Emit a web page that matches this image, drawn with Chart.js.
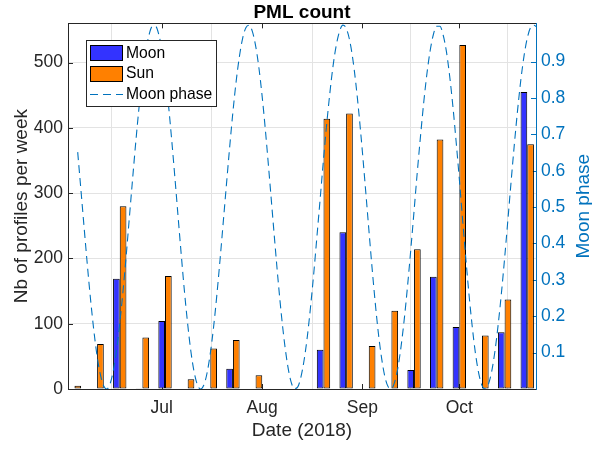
<!DOCTYPE html>
<html><head><meta charset="utf-8">
<script src="https://cdn.jsdelivr.net/npm/chart.js@4.4.1/dist/chart.umd.min.js"></script>
<style>html,body{margin:0;padding:0;background:#fff;}canvas{display:block;}</style>
</head><body>
<canvas id="c" width="592" height="449"></canvas>
<script>
// ---- data ----
const weekDates = ['2018-06-04','2018-06-11','2018-06-18','2018-06-25','2018-07-02','2018-07-09','2018-07-16',
  '2018-07-23','2018-07-30','2018-08-06','2018-08-13','2018-08-20','2018-08-27','2018-09-03','2018-09-10',
  '2018-09-17','2018-09-24','2018-10-01','2018-10-08','2018-10-15','2018-10-22'];
const moonCounts = [0,0,169,1,104,0,0,31,0,0,0,60,240,0,0,29,172,95,0,87,455];
const sunCounts  = [5,69,280,79,173,15,62,75,21,0,0,414,422,66,120,214,382,527,82,137,375];
const phaseStart = '2018-06-05'; // daily values from this date
const moonPhase = [
  0.651,0.547,0.442,0.339,0.244,0.160,0.090,0.040,0.009,
  0.000,0.014,0.050,0.106,0.180,0.268,0.367,0.474,0.580,0.683,0.777,0.858,0.925,0.971,0.996,
  0.998,0.977,0.933,0.868,0.787,0.691,0.587,0.478,0.371,0.269,0.179,0.103,0.047,0.012,0.000,
  0.011,0.044,0.098,0.169,0.256,0.354,0.458,0.563,0.666,0.762,0.846,0.914,0.964,0.993,
  1.000,0.983,0.944,0.885,0.807,0.715,0.612,0.505,0.398,0.295,0.202,0.123,0.061,0.019,0.001,
  0.005,0.032,0.079,0.144,0.226,0.319,0.422,0.526,0.631,0.729,0.816,0.891,0.947,0.984,1.000,
  0.992,0.962,0.911,0.840,0.753,0.655,0.549,0.441,0.335,0.237,0.151,0.083,0.033,0.006,
  0.001,0.019,0.058,0.118,0.194,0.284,0.384,0.489,0.596,0.695,0.788,0.868,0.931,0.975,0.997,
  0.997,0.973,0.928,0.861,0.778,0.681,0.577,0.467,0.360,0.259,0.171,0.097,0.043,0.010,
  0.000,0.013,0.048,0.103,0.176,0.262,0.359,0.463,0.569,0.671,0.765,0.848,0.915,0.964,0.993,1.000,0.995
];
const monthTickDates = ['2018-07-01','2018-08-01','2018-09-01','2018-10-01'];
const monthTickLabels = ['Jul','Aug','Sep','Oct'];
const countTicks = [0,100,200,300,400,500];
const phaseTicks = [0.1,0.2,0.3,0.4,0.5,0.6,0.7,0.8,0.9];
const xStart = '2018-06-02T00:00';
const xEnd = '2018-10-24T17:00';
const countMax = 560;
const phaseMax = 1.005;
const seriesLabels = ['Moon','Sun','Moon phase'];

// ---- helpers ----
const DAY = 86400000;
const toDay = s => Date.parse((s.length === 10 ? s + 'T00:00' : s) + ':00Z') / DAY;
const AXIS = '#262626', GRID = '#e3e3e3', BLUE = '#0072BD';
const MOONC = '#3333FF', SUNC = '#FF8000';
const FONT = '"Liberation Sans", Arial, Helvetica, sans-serif';
Chart.defaults.font.family = FONT;
Chart.defaults.color = AXIS;

const p0 = toDay(phaseStart);
const phaseData = moonPhase.map((v, i) => ({x: p0 + i, y: v}));
const moonData = weekDates.map((d, i) => ({x: toDay(d), y: moonCounts[i]}));
const sunData = weekDates.map((d, i) => ({x: toDay(d), y: sunCounts[i]}));

const decor = {
  id: 'decor',
  beforeDatasetsDraw(chart) {
    const {ctx, chartArea: a, scales} = chart;
    const TL = 5;
    ctx.save();
    ctx.lineWidth = 1;
    ctx.strokeStyle = AXIS;
    ctx.beginPath();
    ctx.moveTo(a.left, Math.round(a.top) + 0.5); ctx.lineTo(a.right, Math.round(a.top) + 0.5);
    scales.x.ticks.forEach(t => {
      const px = Math.round(scales.x.getPixelForValue(t.value)) + 0.5;
      ctx.moveTo(px, a.bottom); ctx.lineTo(px, a.bottom - TL);
      ctx.moveTo(px, a.top); ctx.lineTo(px, a.top + TL);
    });
    scales.y.ticks.forEach(t => {
      const py = Math.round(scales.y.getPixelForValue(t.value)) + 0.5;
      ctx.moveTo(a.left, py); ctx.lineTo(a.left + TL, py);
    });
    ctx.stroke();
    ctx.strokeStyle = BLUE;
    ctx.beginPath();
    scales.y1.ticks.forEach(t => {
      const py = Math.round(scales.y1.getPixelForValue(t.value)) + 0.5;
      ctx.moveTo(a.right, py); ctx.lineTo(a.right - TL, py);
    });
    ctx.stroke();
    ctx.restore();
  },
  afterDraw(chart) {
    const {ctx, chartArea: a} = chart;
    ctx.save();
    // right axis title (reads bottom to top)
    ctx.translate(584, (a.top + a.bottom) / 2);
    ctx.rotate(-Math.PI / 2);
    ctx.fillStyle = BLUE;
    ctx.font = '19px ' + FONT;
    ctx.textAlign = 'center';
    ctx.textBaseline = 'middle';
    ctx.fillText('Moon phase', 0, 0);
    ctx.restore();
    // legend
    ctx.save();
    const lx = Math.round(a.left) + 18, ly = Math.round(a.top) + 17, lw = 130, lh = 66;
    ctx.fillStyle = '#fff';
    ctx.fillRect(lx, ly, lw, lh);
    ctx.strokeStyle = AXIS; ctx.lineWidth = 1;
    ctx.strokeRect(lx + 0.5, ly + 0.5, lw, lh);
    ctx.font = '15.7px ' + FONT;
    ctx.textBaseline = 'middle';
    ctx.textAlign = 'left';
    const ds = chart.data.datasets;
    const order = [1, 2, 0];
    order.forEach((di, r) => {
      const d = ds[di];
      const cy = ly + 13 + r * 20.5;
      if (d.type === 'line') {
        ctx.strokeStyle = d.borderColor; ctx.lineWidth = 1;
        ctx.setLineDash(d.borderDash);
        ctx.beginPath(); ctx.moveTo(lx + 4, Math.round(cy) + 0.5); ctx.lineTo(lx + 37, Math.round(cy) + 0.5); ctx.stroke();
        ctx.setLineDash([]);
      } else {
        ctx.fillStyle = d.backgroundColor;
        ctx.fillRect(lx + 4, Math.round(cy - 8), 33, 16);
        ctx.strokeStyle = '#000'; ctx.lineWidth = 1;
        ctx.strokeRect(lx + 4.5, Math.round(cy - 8) + 0.5, 32, 15);
      }
      ctx.fillStyle = '#000';
      ctx.fillText(d.label, lx + 40, cy + 0.5);
    });
    ctx.restore();
  }
};

new Chart(document.getElementById('c'), {
  type: 'bar',
  data: {
    datasets: [
      {type: 'line', label: seriesLabels[2], data: phaseData, yAxisID: 'y1', order: 0,
       borderColor: BLUE, borderWidth: 1.1, borderDash: [8, 5], pointRadius: 0,
       cubicInterpolationMode: 'monotone', fill: false},
      {label: seriesLabels[0], data: moonData, yAxisID: 'y', order: 1,
       backgroundColor: MOONC, borderColor: '#000', borderWidth: 1, borderSkipped: false},
      {label: seriesLabels[1], data: sunData, yAxisID: 'y', order: 1,
       backgroundColor: SUNC, borderColor: '#000', borderWidth: 1, borderSkipped: false}
    ]
  },
  options: {
    responsive: false, animation: false, devicePixelRatio: 1,
    layout: {padding: 0},
    datasets: {bar: {categoryPercentage: 0.59, barPercentage: 1.0, grouped: true}},
    plugins: {
      legend: {display: false},
      tooltip: {enabled: false},
      title: {display: true, text: 'PML count', fullSize: false, color: '#000',
        font: {size: 19, weight: 'bold', lineHeight: 1.15}, padding: {top: 1.5, bottom: 0}}
    },
    scales: {
      x: {
        type: 'linear', position: 'bottom', offset: false,
        min: toDay(xStart), max: toDay(xEnd),
        afterBuildTicks: s => { s.ticks = monthTickDates.map(d => ({value: toDay(d)})); },
        afterFit: s => { s.height = 60; },
        ticks: {autoSkip: false, maxRotation: 0, padding: 9, font: {size: 17.5}, color: AXIS,
          callback: (v, i) => monthTickLabels[i]},
        grid: {color: GRID, lineWidth: 1, drawTicks: false},
        border: {display: true, color: AXIS, width: 1},
        title: {display: true, text: 'Date (2018)', font: {size: 19}, color: AXIS, padding: {top: 0, bottom: 7}}
      },
      y: {
        type: 'linear', position: 'left', min: 0, max: countMax,
        afterBuildTicks: s => { s.ticks = countTicks.map(v => ({value: v})); },
        afterFit: s => { s.width = 68; },
        ticks: {padding: 5, font: {size: 17.5}, color: AXIS, callback: v => String(v)},
        grid: {color: GRID, lineWidth: 1, drawTicks: false},
        border: {display: true, color: AXIS, width: 1},
        title: {display: true, text: 'Nb of profiles per week', font: {size: 19}, color: AXIS, padding: {top: 10, bottom: 0}}
      },
      y1: {
        type: 'linear', position: 'right', min: 0, max: phaseMax,
        afterBuildTicks: s => { s.ticks = phaseTicks.map(v => ({value: v})); },
        afterFit: s => { s.width = 56; },
        ticks: {padding: 5, font: {size: 17.5}, color: BLUE, callback: v => v.toFixed(1)},
        grid: {display: false, drawTicks: false},
        border: {display: true, color: BLUE, width: 1},
        title: {display: false}
      }
    }
  },
  plugins: [decor]
});
</script>
</body></html>
